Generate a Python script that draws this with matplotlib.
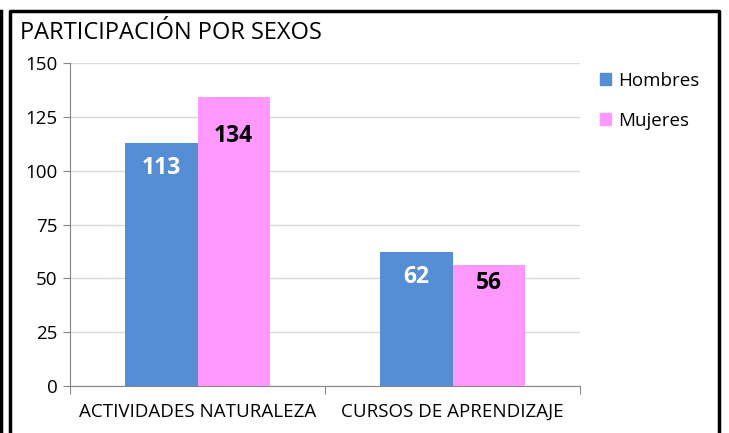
import matplotlib
matplotlib.use("Agg")
import matplotlib.pyplot as plt
from matplotlib.lines import Line2D
import numpy as np

categories = ["ACTIVIDADES NATURALEZA", "CURSOS DE APRENDIZAJE"]
hombres = [113, 62]
mujeres = [134, 56]
series_names = ["Hombres", "Mujeres"]
yticks = [0, 25, 50, 75, 100, 125, 150]
title = "PARTICIPACIÓN POR SEXOS"

plt.rcParams['font.family'] = ['Open Sans', 'DejaVu Sans']
W, H = 729, 433
fig = plt.figure(figsize=(W/100, H/100), dpi=100)
ax = fig.add_axes([70/W, 1-386/H, (580-70)/W, (386-63)/H])

x = np.arange(len(categories))
bw = 0.283
c_h = "#558ED5"
c_m = "#FF99FF"
b1 = ax.bar(x - bw/2, hombres, bw, color=c_h, label=series_names[0], zorder=3)
b2 = ax.bar(x + bw/2, mujeres, bw, color=c_m, label=series_names[1], zorder=3)

off_h = [-18.5, -17.5]
off_m = [-27.5, -12.5]
for rect, v, o in zip(b1, hombres, off_h):
    ax.annotate(str(v), (rect.get_x() + rect.get_width()/2, v), xytext=(0, o),
                textcoords="offset points", ha="center", va="center",
                fontsize=16.5, fontweight="bold", color="white", zorder=4)
for rect, v, o in zip(b2, mujeres, off_m):
    ax.annotate(str(v), (rect.get_x() + rect.get_width()/2, v), xytext=(0, o),
                textcoords="offset points", ha="center", va="center",
                fontsize=16.5, fontweight="bold", color="black", zorder=4)

ax.set_xlim(-0.5, 1.5)
ax.set_ylim(0, 150)
ax.set_yticks(yticks)
ax.yaxis.grid(True, color="#D9D9D9", linewidth=1, zorder=0)
ax.set_axisbelow(True)
for s in ["top", "right"]:
    ax.spines[s].set_visible(False)
ax.spines["left"].set_color("#868686")
ax.spines["bottom"].set_color("#868686")
ax.tick_params(axis="y", length=5, color="#868686", labelsize=13.5, pad=4, labelcolor="#000000")
ax.set_xticks([-0.5, 0.5, 1.5], minor=False)
ax.set_xticklabels([])
ax.tick_params(axis="x", which="major", length=6, color="#868686")
ax.set_xticks(x, minor=True)
ax.set_xticklabels(categories, minor=True, fontsize=13.5)
ax.tick_params(axis="x", which="minor", length=0, pad=12)

fig.text(20/W, 1-33/H, title, fontsize=17, va="center", ha="left")

handles = [plt.Rectangle((0, 0), 1, 1, color=c_h), plt.Rectangle((0, 0), 1, 1, color=c_m)]
fig.legend(handles, series_names, loc="upper left", bbox_to_anchor=(592/W, 1-64/H),
           frameon=False, fontsize=13.5, handlelength=0.6, handleheight=0.6,
           handletextpad=0.4, labelspacing=1.2, borderaxespad=0)

# outer border
lw = 2.5
fig.add_artist(Line2D([10/W, 10/W, 719/W, 719/W], [0, 1-11/H, 1-11/H, 0],
                      transform=fig.transFigure, color="black", linewidth=lw))
fig.add_artist(Line2D([1/W, 1/W], [0, 1-11/H], transform=fig.transFigure, color="black", linewidth=lw))

fig.savefig("out.png", dpi=100)
